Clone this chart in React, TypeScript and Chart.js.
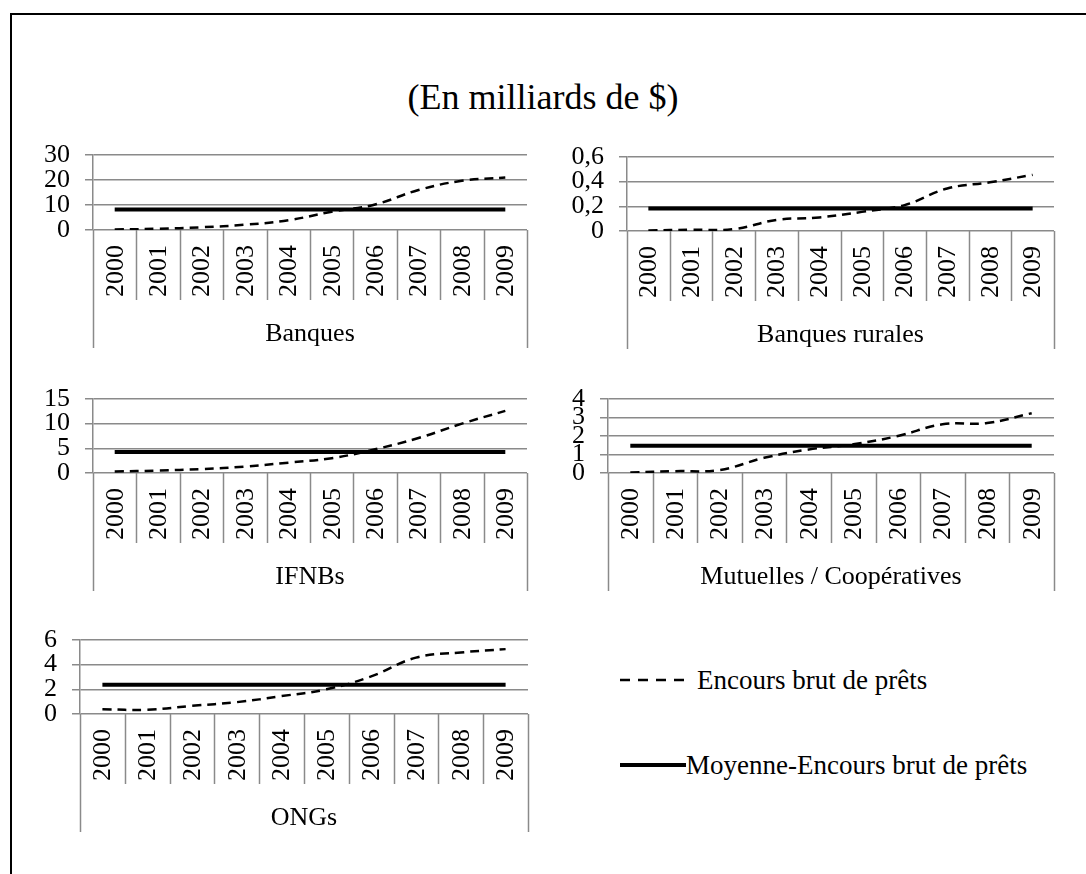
import React, { useEffect, useRef } from "react";
import { Chart, registerables } from "chart.js";

Chart.register(...registerables);

// ---------- data ----------
const years = ["2000", "2001", "2002", "2003", "2004", "2005", "2006", "2007", "2008", "2009"];

const banquesEncours = [0.2, 0.5, 1.1, 2.1, 3.9, 7.3, 10.2, 16.0, 19.7, 21.0];
const banquesMoyenne = [8.2, 8.2, 8.2, 8.2, 8.2, 8.2, 8.2, 8.2, 8.2, 8.2];

const ruralesEncours = [0.005, 0.01, 0.015, 0.09, 0.11, 0.155, 0.21, 0.345, 0.395, 0.455];
const ruralesMoyenne = [0.183, 0.183, 0.183, 0.183, 0.183, 0.183, 0.183, 0.183, 0.183, 0.183];

const ifnbsEncours = [0.3, 0.5, 0.8, 1.3, 2.1, 3.0, 4.8, 7.1, 10.0, 12.6];
const ifnbsMoyenne = [4.25, 4.25, 4.25, 4.25, 4.25, 4.25, 4.25, 4.25, 4.25, 4.25];

const mutuellesEncours = [0.03, 0.1, 0.16, 0.82, 1.27, 1.55, 2.0, 2.63, 2.7, 3.23];
const mutuellesMoyenne = [1.47, 1.47, 1.47, 1.47, 1.47, 1.47, 1.47, 1.47, 1.47, 1.47];

const ongsEncours = [0.39, 0.34, 0.66, 0.96, 1.45, 2.0, 3.05, 4.57, 4.99, 5.26];
const ongsMoyenne = [2.37, 2.37, 2.37, 2.37, 2.37, 2.37, 2.37, 2.37, 2.37, 2.37];

const groupNames = ["Banques", "Banques rurales", "IFNBs", "Mutuelles / Coopératives", "ONGs"];
const axisMax = [30, 0.6, 15, 4, 6];
const axisStep = [10, 0.2, 5, 1, 2];

const titleText = "(En milliards de $)";
const seriesLabel = "Encours brut de prêts";
const meanLabel = "Moyenne-Encours brut de prêts";

// ---------- styles / layout ----------
const FONT = "'Liberation Serif', 'Times New Roman', serif";
const FS = 26;
const GRID = "#8a8a8a";
const YW = 70; // y-axis box width
const PADTOP = 20;
const PADR = 6;
const XH = 130; // room under the axis
const SEP = 70;
const BOX = 118;
const YEAR_OFF = 41;
const NAME_OFF = 104;

type Layout = { axisX: number; rightX: number; topY: number; bottomY: number };
const layouts: Layout[] = [
  { axisX: 93, rightX: 527, topY: 147, bottomY: 230 },
  { axisX: 627, rightX: 1054, topY: 149, bottomY: 231 },
  { axisX: 93, rightX: 527, topY: 391, bottomY: 473 },
  { axisX: 608, rightX: 1054, topY: 391, bottomY: 473 },
  { axisX: 80, rightX: 528, topY: 632, bottomY: 714 },
];

const encoursSets = [banquesEncours, ruralesEncours, ifnbsEncours, mutuellesEncours, ongsEncours];
const moyenneSets = [banquesMoyenne, ruralesMoyenne, ifnbsMoyenne, mutuellesMoyenne, ongsMoyenne];

const fmt = (v: number | string) => {
  const n = Math.round(Number(v) * 10) / 10;
  return String(n).replace(".", ",");
};

const catAxisPlugin = (name: string) => ({
  id: "catAxis",
  afterDraw(chart: any) {
    const ctx = chart.ctx as CanvasRenderingContext2D;
    const xs = chart.scales.x;
    const bottom = chart.chartArea.bottom;
    const labels = chart.data.labels as string[];
    const n = labels.length;
    ctx.save();
    ctx.strokeStyle = GRID;
    ctx.lineWidth = 1.5;
    for (let i = 0; i <= n; i++) {
      const x = Math.round(xs.getPixelForValue(i - 0.5)) + 0.5;
      const len = i === 0 || i === n ? BOX : SEP;
      ctx.beginPath();
      ctx.moveTo(x, bottom);
      ctx.lineTo(x, bottom + len);
      ctx.stroke();
    }
    ctx.fillStyle = "#000";
    ctx.font = `${FS}px ${FONT}`;
    ctx.textAlign = "center";
    ctx.textBaseline = "middle";
    for (let i = 0; i < n; i++) {
      ctx.save();
      ctx.translate(xs.getPixelForValue(i), bottom + YEAR_OFF);
      ctx.rotate(-Math.PI / 2);
      ctx.fillText(labels[i], 0, 1);
      ctx.restore();
    }
    ctx.fillText(name, (xs.left + xs.right) / 2, bottom + NAME_OFF);
    ctx.restore();
  },
});

function Panel({ idx }: { idx: number }) {
  const ref = useRef<HTMLCanvasElement>(null);
  const lay = layouts[idx];
  const width = lay.rightX - lay.axisX + YW + PADR;
  const height = lay.bottomY - lay.topY + PADTOP + XH;

  useEffect(() => {
    if (!ref.current) return;
    const chart = new Chart(ref.current, {
      type: "line",
      data: {
        labels: years,
        datasets: [
          {
            label: seriesLabel,
            data: encoursSets[idx],
            borderColor: "#000",
            borderWidth: 2.5,
            borderDash: [9, 6],
            tension: 0.4,
            pointRadius: 0,
            fill: false,
          },
          {
            label: meanLabel,
            data: moyenneSets[idx],
            borderColor: "#000",
            borderWidth: 4,
            borderCapStyle: "butt",
            tension: 0,
            pointRadius: 0,
            fill: false,
          },
        ],
      },
      options: {
        animation: false,
        responsive: false,
        maintainAspectRatio: false,
        events: [],
        layout: { padding: { top: PADTOP, right: PADR, left: 0, bottom: 0 } },
        plugins: { legend: { display: false }, tooltip: { enabled: false }, title: { display: false } },
        scales: {
          x: {
            type: "category",
            offset: true,
            grid: { display: false },
            border: { display: false },
            ticks: { display: false },
            afterFit: (s: any) => {
              s.height = XH;
            },
          },
          y: {
            min: 0,
            max: axisMax[idx],
            afterFit: (s: any) => {
              s.width = YW;
            },
            ticks: {
              stepSize: axisStep[idx],
              autoSkip: false,
              color: "#000",
              padding: 15,
              font: { family: FONT, size: FS, lineHeight: 1 },
              callback: (v: any) => fmt(v),
            },
            grid: { color: GRID, lineWidth: 1.5, tickLength: 8 },
            border: { display: true, color: GRID, width: 1.5 },
          },
        },
      } as any,
      plugins: [catAxisPlugin(groupNames[idx])],
    });
    return () => chart.destroy();
  }, [idx]);

  return (
    <canvas
      ref={ref}
      width={width}
      height={height}
      style={{
        position: "absolute",
        left: lay.axisX - YW,
        top: lay.topY - PADTOP,
        width,
        height,
      }}
    />
  );
}

export default function App() {
  return (
    <div
      style={{
        position: "absolute",
        left: 0,
        top: 0,
        width: 1086,
        height: 874,
        overflow: "hidden",
        background: "#fff",
        fontFamily: FONT,
        color: "#000",
      }}
    >
      <div
        style={{
          position: "absolute",
          left: 10,
          top: 13,
          width: 1200,
          height: 1000,
          border: "2px solid #000",
          boxSizing: "border-box",
        }}
      />
      <div
        style={{
          position: "absolute",
          left: 0,
          width: 1086,
          top: 77,
          textAlign: "center",
          fontSize: 36,
          lineHeight: "40px",
        }}
      >
        {titleText}
      </div>
      {layouts.map((_, i) => (
        <Panel key={i} idx={i} />
      ))}
      <div
        style={{
          position: "absolute",
          left: 620,
          top: 665,
          height: 30,
          display: "flex",
          alignItems: "center",
          fontSize: 27,
          whiteSpace: "nowrap",
        }}
      >
        <svg width={66} height={8} style={{ display: "block" }}>
          <line x1={0} y1={4} x2={66} y2={4} stroke="#000" strokeWidth={2.5} strokeDasharray="10 8" />
        </svg>
        <span style={{ marginLeft: 11 }}>{seriesLabel}</span>
      </div>
      <div
        style={{
          position: "absolute",
          left: 620,
          top: 750,
          height: 30,
          display: "flex",
          alignItems: "center",
          fontSize: 27,
          whiteSpace: "nowrap",
        }}
      >
        <svg width={66} height={8} style={{ display: "block" }}>
          <line x1={0} y1={4} x2={66} y2={4} stroke="#000" strokeWidth={4} />
        </svg>
        <span style={{ marginLeft: 0 }}>{meanLabel}</span>
      </div>
    </div>
  );
}
